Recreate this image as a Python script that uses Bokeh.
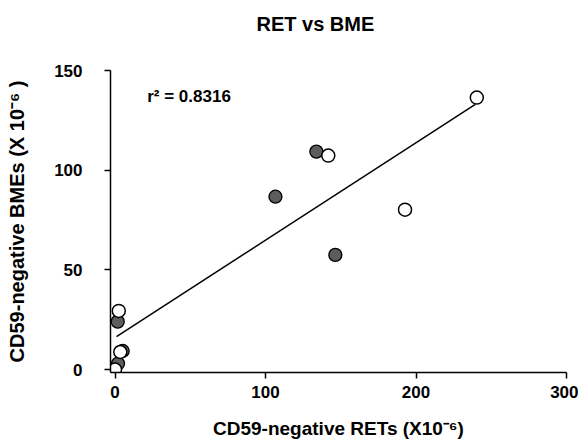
import numpy as np
from bokeh.plotting import figure
from bokeh.models import Range1d, FixedTicker, Label
from bokeh.embed import file_html
from bokeh.resources import INLINE

# ---- data ----
open_x = [0, 3.5, 2.5, 141.7, 192.7, 240.4]
open_y = [0, 8.8, 29.4, 107.3, 80.2, 136.4]
filled_x = [2, 5.1, 1.8, 106.6, 133.8, 146.4]
filled_y = [3, 9.3, 24, 86.7, 109.3, 57.5]
fit_slope = 0.489
fit_intercept = 16.0
r2_text = "r\u00b2 = 0.8316"
x_ticks = [0, 100, 200, 300]
y_ticks = [0, 50, 100, 150]
title_text = "RET vs BME"
x_title = "CD59-negative RETs (X10\u207b\u2076)"
y_title = "CD59-negative BMEs (X 10\u207b\u2076 )"

FONT = "Liberation Sans"

p = figure(width=578, height=446, output_backend="svg", toolbar_location=None,
           x_range=Range1d(-3, 300), y_range=Range1d(-1.5, 150),
           min_border_left=110, min_border_right=12, min_border_top=70, min_border_bottom=74)
p.outline_line_color = None
p.xgrid.visible = False
p.ygrid.visible = False
p.background_fill_color = "white"
p.border_fill_color = "white"

p.title.text = title_text + "\n\u00a0"
p.title.align = "left"
p.title.offset = 146
p.title.standoff = 10
p.title.text_line_height = 1.4
p.title.text_font = FONT
p.title.text_font_style = "bold"
p.title.text_font_size = "20px"
p.title.text_color = "black"

for ax, ticks in ((p.xaxis[0], x_ticks), (p.yaxis[0], y_ticks)):
    ax.ticker = FixedTicker(ticks=ticks)
    ax.minor_tick_line_color = None
    ax.major_tick_in = 0
    ax.major_tick_out = 6
    ax.axis_line_width = 1.5
    ax.major_tick_line_width = 1.5
    ax.axis_line_color = "black"
    ax.major_tick_line_color = "black"
    ax.major_label_text_font = FONT
    ax.major_label_text_font_style = "bold"
    ax.major_label_text_font_size = "17px"
    ax.major_label_text_color = "black"
    ax.axis_label_text_font = FONT
    ax.axis_label_text_font_style = "bold"
    ax.axis_label_text_color = "black"
p.xaxis[0].major_label_standoff = 7
p.yaxis[0].major_label_standoff = 22
p.xaxis[0].axis_label = x_title
p.xaxis[0].axis_label_text_font_size = "19px"
p.xaxis[0].axis_label_standoff = 17
p.yaxis[0].axis_label = y_title
p.yaxis[0].axis_label_text_font_size = "20px"
p.yaxis[0].axis_label_standoff = 23

# regression line
all_x = np.array(open_x + filled_x)
lx = np.array([all_x.min() + 1, all_x.max() - 1])
p.line(lx, fit_intercept + fit_slope * lx, line_color="black", line_width=1.5)

p.scatter(filled_x, filled_y, size=13, fill_color="#5c5c5c", line_color="black", line_width=1.3)
p.scatter(open_x, open_y, size=13, fill_color="white", line_color="black", line_width=1.5)

p.add_layout(Label(x=21.4, y=137, text=r2_text, text_font=FONT, text_font_style="bold",
                   text_font_size="17px", text_baseline="middle", text_align="left",
                   text_color="black"))

open("out.html", "w").write(file_html(p, INLINE))
